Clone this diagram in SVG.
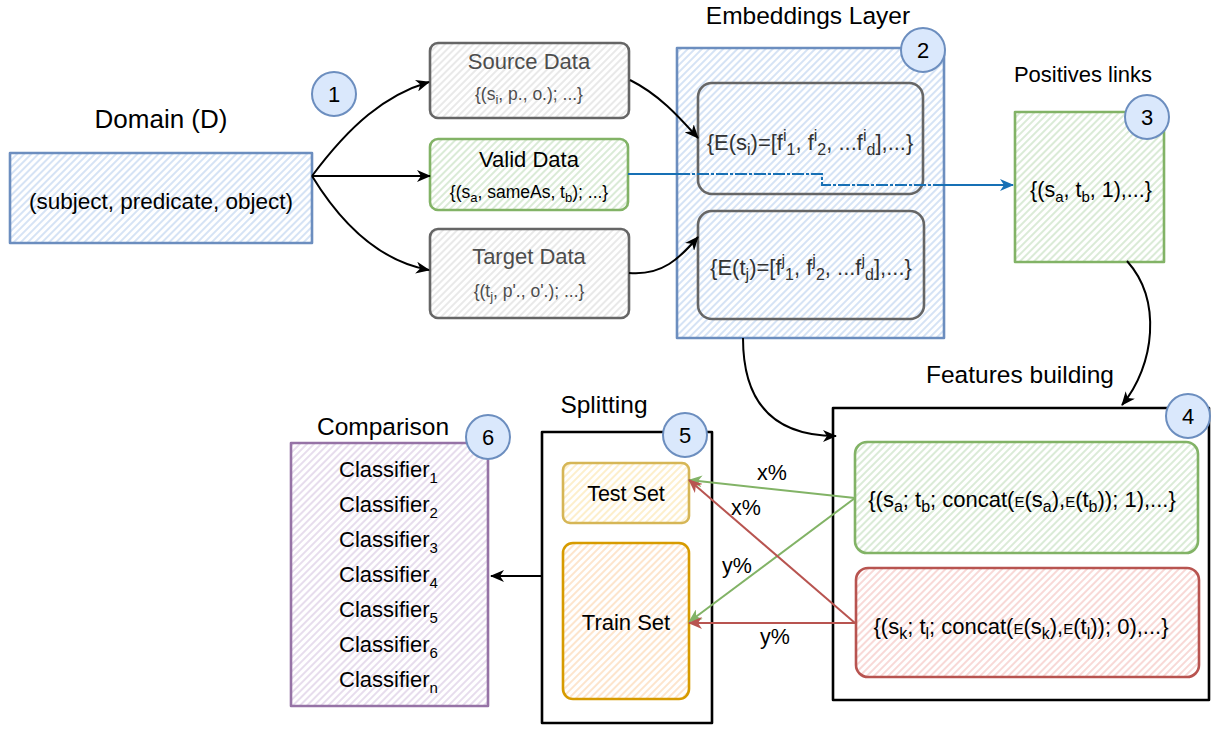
<svg xmlns="http://www.w3.org/2000/svg" width="1220" height="729" viewBox="0 0 1220 729">
<style>
text{font-family:"Liberation Sans",Arial,sans-serif;fill:#000}
.h{font-size:24.5px;text-anchor:middle}
.t{font-size:22px;text-anchor:middle}
.f{font-size:17.5px;text-anchor:middle}
.g{fill:#4d4d4d}
.num{font-size:22px;text-anchor:middle}
.circ{fill:#dae8fc;stroke:#6c8ebf;stroke-width:2}
.box{stroke-width:2.6;stroke-linejoin:round}
.conn{fill:none;stroke-width:2}
</style>
<defs>
<pattern id="pBlue" width="5" height="5" patternUnits="userSpaceOnUse" patternTransform="rotate(45)"><line x1="1" y1="0" x2="1" y2="5" stroke="#b3cced" stroke-width="1.1"/></pattern>
<pattern id="pGrey" width="5" height="5" patternUnits="userSpaceOnUse" patternTransform="rotate(45)"><line x1="1" y1="0" x2="1" y2="5" stroke="#d6d6d6" stroke-width="1.1"/></pattern>
<pattern id="pGreen" width="5" height="5" patternUnits="userSpaceOnUse" patternTransform="rotate(45)"><line x1="1" y1="0" x2="1" y2="5" stroke="#bcdab6" stroke-width="1.1"/></pattern>
<pattern id="pRed" width="5" height="5" patternUnits="userSpaceOnUse" patternTransform="rotate(45)"><line x1="1" y1="0" x2="1" y2="5" stroke="#f3bab6" stroke-width="1.1"/></pattern>
<pattern id="pYellow" width="5" height="5" patternUnits="userSpaceOnUse" patternTransform="rotate(45)"><line x1="1" y1="0" x2="1" y2="5" stroke="#fbe2a2" stroke-width="1.1"/></pattern>
<pattern id="pOrange" width="5" height="5" patternUnits="userSpaceOnUse" patternTransform="rotate(45)"><line x1="1" y1="0" x2="1" y2="5" stroke="#fbd0a3" stroke-width="1.1"/></pattern>
<pattern id="pPurple" width="5" height="5" patternUnits="userSpaceOnUse" patternTransform="rotate(45)"><line x1="1" y1="0" x2="1" y2="5" stroke="#d3c1de" stroke-width="1.1"/></pattern>
<marker id="aK" viewBox="0 0 14 12" refX="13" refY="6" markerWidth="14" markerHeight="12" markerUnits="userSpaceOnUse" orient="auto"><path d="M0,0 L14,6 L0,12 L4,6 Z" fill="#000"/></marker>
<marker id="aB" viewBox="0 0 14 12" refX="13" refY="6" markerWidth="14" markerHeight="12" markerUnits="userSpaceOnUse" orient="auto"><path d="M0,0 L14,6 L0,12 L4,6 Z" fill="#1770b5"/></marker>
<marker id="aG" viewBox="0 0 14 12" refX="13" refY="6" markerWidth="14" markerHeight="12" markerUnits="userSpaceOnUse" orient="auto"><path d="M0,0 L14,6 L0,12 L4,6 Z" fill="#82b366"/></marker>
<marker id="aR" viewBox="0 0 14 12" refX="13" refY="6" markerWidth="14" markerHeight="12" markerUnits="userSpaceOnUse" orient="auto"><path d="M0,0 L14,6 L0,12 L4,6 Z" fill="#b85450"/></marker>
</defs>
<rect width="1220" height="729" fill="#fff"/>

<g id="domain">
<text class="h" x="161" y="128" style="font-size:26px">Domain (D)</text>
<rect class="box" x="10" y="153" width="302" height="90" fill="url(#pBlue)" stroke="#6c8ebf"/>
<text x="161" y="209" style="font-size:22.5px;text-anchor:middle">(subject, predicate, object)</text>
<circle class="circ" cx="334" cy="94" r="22"/>
<text class="num" x="334" y="102">1</text>
</g>

<g id="source-data">
<rect class="box" x="430" y="43" width="199" height="75" rx="8" fill="url(#pGrey)" stroke="#666"/>
<text class="t g" x="529" y="69">Source Data</text>
<text class="f g" x="529" y="100">{(s<tspan dy="4" font-size="13">i</tspan><tspan dy="-4">, p., o.); ...}</tspan></text>
</g>

<g id="valid-data">
<rect class="box" x="430" y="139" width="198" height="71" rx="8" fill="url(#pGreen)" stroke="#82b366"/>
<text class="t" x="529" y="167">Valid Data</text>
<text class="f" x="529" y="198">{(s<tspan dy="4" font-size="13">a</tspan><tspan dy="-4">, sameAs, t</tspan><tspan dy="4" font-size="13">b</tspan><tspan dy="-4">); ...}</tspan></text>
</g>

<g id="target-data">
<rect class="box" x="430" y="229" width="199" height="89" rx="8" fill="url(#pGrey)" stroke="#666"/>
<text class="t g" x="529" y="264">Target Data</text>
<text class="f g" x="529" y="297">{(t<tspan dy="4" font-size="13">j</tspan><tspan dy="-4">, p'., o'.); ...}</tspan></text>
</g>

<g id="embeddings-layer">
<text class="h" x="808" y="24">Embeddings Layer</text>
<rect class="box" x="677" y="48" width="267" height="290" fill="url(#pBlue)" stroke="#6c8ebf"/>
<rect class="box" x="698" y="83" width="225" height="111" rx="14" fill="none" stroke="#666"/>
<text x="810" y="150" style="font-size:22px;text-anchor:middle;fill:#333">{E(s<tspan dy="5" font-size="16">i</tspan><tspan dy="-5">)=[f</tspan><tspan dy="-9" font-size="16">i</tspan><tspan dy="14" font-size="16">1</tspan><tspan dy="-5">, f</tspan><tspan dy="-9" font-size="16">i</tspan><tspan dy="14" font-size="16">2</tspan><tspan dy="-5">, ...f</tspan><tspan dy="-9" font-size="16">i</tspan><tspan dy="14" font-size="16">d</tspan><tspan dy="-5">],...}</tspan></text>
<rect class="box" x="698" y="211" width="226" height="108" rx="14" fill="none" stroke="#666"/>
<text x="811" y="275" style="font-size:22px;text-anchor:middle;fill:#333">{E(t<tspan dy="5" font-size="16">j</tspan><tspan dy="-5">)=[f</tspan><tspan dy="-9" font-size="16">j</tspan><tspan dy="14" font-size="16">1</tspan><tspan dy="-5">, f</tspan><tspan dy="-9" font-size="16">j</tspan><tspan dy="14" font-size="16">2</tspan><tspan dy="-5">, ...f</tspan><tspan dy="-9" font-size="16">j</tspan><tspan dy="14" font-size="16">d</tspan><tspan dy="-5">],...}</tspan></text>
<circle class="circ" cx="923" cy="50" r="22"/>
<text class="num" x="923" y="58">2</text>
</g>

<g id="positives-links">
<text x="1083" y="82" style="font-size:22px;text-anchor:middle">Positives links</text>
<rect class="box" x="1015" y="112" width="149" height="150" fill="url(#pGreen)" stroke="#82b366"/>
<text x="1091" y="197" style="font-size:21.5px;text-anchor:middle">{(s<tspan dy="5" font-size="15">a</tspan><tspan dy="-5">, t</tspan><tspan dy="5" font-size="15">b</tspan><tspan dy="-5">, 1),...}</tspan></text>
<circle class="circ" cx="1147" cy="117" r="22"/>
<text class="num" x="1147" y="125">3</text>
</g>

<g id="features-building">
<text class="h" x="1020" y="383">Features building</text>
<rect class="box" x="833" y="408" width="376" height="292" fill="#fff" stroke="#000" stroke-width="2.8"/>
<rect class="box" x="855" y="442" width="343" height="111" rx="12" fill="url(#pGreen)" stroke="#82b366"/>
<text x="1022" y="507" style="font-size:22px;text-anchor:middle">{(s<tspan dy="5" font-size="16">a</tspan><tspan dy="-5">; t</tspan><tspan dy="5" font-size="16">b</tspan><tspan dy="-5">; concat(</tspan><tspan font-size="15">E</tspan><tspan>(s</tspan><tspan dy="5" font-size="16">a</tspan><tspan dy="-5">),</tspan><tspan font-size="15">E</tspan><tspan>(t</tspan><tspan dy="5" font-size="16">b</tspan><tspan dy="-5">)); 1),...}</tspan></text>
<rect class="box" x="856" y="568" width="343" height="109" rx="12" fill="url(#pRed)" stroke="#b85450"/>
<text x="1021" y="634" style="font-size:22px;text-anchor:middle">{(s<tspan dy="5" font-size="16">k</tspan><tspan dy="-5">; t</tspan><tspan dy="5" font-size="16">l</tspan><tspan dy="-5">; concat(</tspan><tspan font-size="15">E</tspan><tspan>(s</tspan><tspan dy="5" font-size="16">k</tspan><tspan dy="-5">),</tspan><tspan font-size="15">E</tspan><tspan>(t</tspan><tspan dy="5" font-size="16">l</tspan><tspan dy="-5">)); 0),...}</tspan></text>
<circle class="circ" cx="1188" cy="416" r="22"/>
<text class="num" x="1188" y="424">4</text>
</g>

<g id="splitting">
<text class="h" x="604" y="413">Splitting</text>
<rect class="box" x="542" y="432" width="170" height="291" fill="#fff" stroke="#000" stroke-width="2.8"/>
<rect class="box" x="563" y="463" width="126" height="60" rx="7" fill="url(#pYellow)" stroke="#d6b656"/>
<text x="626" y="501" style="font-size:21.5px;text-anchor:middle">Test Set</text>
<rect class="box" x="563" y="543" width="126" height="156" rx="10" fill="url(#pOrange)" stroke="#d79b00"/>
<text x="626" y="630" style="font-size:22px;text-anchor:middle">Train Set</text>
<circle class="circ" cx="685" cy="435" r="22"/>
<text class="num" x="685" y="443">5</text>
</g>

<g id="comparison">
<text class="h" x="383" y="435">Comparison</text>
<rect class="box" x="291" y="443" width="197" height="263" fill="url(#pPurple)" stroke="#9673a6"/>
<g style="font-size:22px">
<text x="339" y="477">Classifier<tspan dy="6" font-size="15">1</tspan></text>
<text x="339" y="512">Classifier<tspan dy="6" font-size="15">2</tspan></text>
<text x="339" y="547">Classifier<tspan dy="6" font-size="15">3</tspan></text>
<text x="339" y="582">Classifier<tspan dy="6" font-size="15">4</tspan></text>
<text x="339" y="617">Classifier<tspan dy="6" font-size="15">5</tspan></text>
<text x="339" y="652">Classifier<tspan dy="6" font-size="15">6</tspan></text>
<text x="339" y="687">Classifier<tspan dy="6" font-size="15">n</tspan></text>
</g>
<circle class="circ" cx="488" cy="437" r="22"/>
<text class="num" x="488" y="445">6</text>
</g>

<g id="connectors">
<path class="conn" stroke="#000" d="M312,176 C350,125 385,95 429,82" marker-end="url(#aK)"/>
<path class="conn" stroke="#000" d="M312,176 L430,176" marker-end="url(#aK)"/>
<path class="conn" stroke="#000" d="M312,176 C345,230 385,262 429,270" marker-end="url(#aK)"/>
<path class="conn" stroke="#000" d="M630,80 C660,95 680,118 698,138" marker-end="url(#aK)"/>
<path class="conn" stroke="#000" d="M629,273 C662,276 680,258 698,237" marker-end="url(#aK)"/>
<path class="conn" stroke="#1770b5" d="M628,174 L678,174"/>
<path class="conn" stroke="#1770b5" stroke-dasharray="12 2 3 2" d="M678,174 L822,174 L822,185 L944,185"/>
<path class="conn" stroke="#1770b5" d="M944,185 L1013,185" marker-end="url(#aB)"/>
<path class="conn" stroke="#000" d="M743,338 C743,410 780,436 836,436" marker-end="url(#aK)"/>
<path class="conn" stroke="#000" d="M1127,261 C1162,300 1155,365 1122,405" marker-end="url(#aK)"/>
<path class="conn" stroke="#82b366" d="M855,498 L689,480" marker-end="url(#aG)"/>
<path class="conn" stroke="#82b366" d="M855,498 L689,622" marker-end="url(#aG)"/>
<path class="conn" stroke="#b85450" d="M855,623 L689,480" marker-end="url(#aR)"/>
<path class="conn" stroke="#b85450" d="M855,623 L689,623" marker-end="url(#aR)"/>
<path class="conn" stroke="#000" d="M542,576 L491,576" marker-end="url(#aK)"/>
<text x="772" y="480" style="font-size:21.5px;text-anchor:middle">x%</text>
<text x="746" y="515" style="font-size:21.5px;text-anchor:middle">x%</text>
<text x="737" y="573" style="font-size:21.5px;text-anchor:middle">y%</text>
<text x="775" y="644" style="font-size:21.5px;text-anchor:middle">y%</text>
</g>
</svg>
